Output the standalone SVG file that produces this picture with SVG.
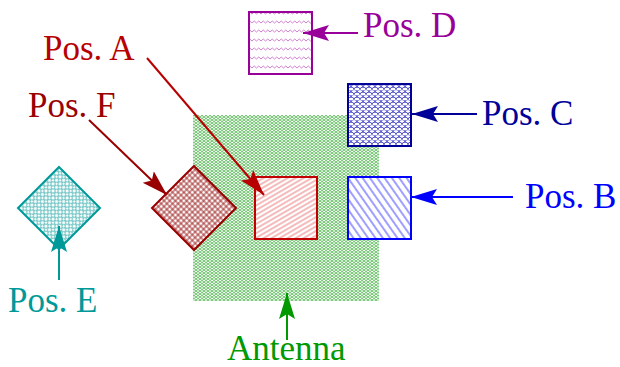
<svg xmlns="http://www.w3.org/2000/svg" width="620" height="367" viewBox="0 0 620 367">
<style>
text{font-family:"Liberation Serif","Times New Roman",serif;font-size:35px}
.conn{fill:none;stroke-width:2}
.box{stroke-width:2}
</style>
<defs>
<pattern id="pAnt" width="4" height="3" patternUnits="userSpaceOnUse">
<path d="M0,0 L4,3 M4,0 L0,3" stroke="#5cbc5c" stroke-width="0.9" fill="none"/>
</pattern>
<pattern id="pA" width="4" height="4" patternUnits="userSpaceOnUse" patternTransform="rotate(-30)">
<path d="M0,2 H4" stroke="#e87878" stroke-width="1"/>
</pattern>
<pattern id="pB" width="6" height="6" patternUnits="userSpaceOnUse" patternTransform="rotate(55)">
<path d="M0,3 H6" stroke="#4040ff" stroke-width="1"/>
</pattern>
<pattern id="pC" width="6" height="5" patternUnits="userSpaceOnUse">
<path d="M0,5 A3,3 0 0 1 6,5 M-3,2.5 A3,3 0 0 1 3,2.5 M3,2.5 A3,3 0 0 1 9,2.5" stroke="#4a4ac8" stroke-width="0.9" fill="none"/>
</pattern>
<pattern id="pD" width="9" height="9" patternUnits="userSpaceOnUse">
<path d="M0,5 L2.25,3 L4.5,5 L6.75,3 L9,5" stroke="#d080d0" stroke-width="1" fill="none"/>
</pattern>
<pattern id="pE" width="5" height="5" patternUnits="userSpaceOnUse" patternTransform="rotate(45)">
<circle cx="2.5" cy="2.5" r="2.1" stroke="#40b0b0" stroke-width="0.9" fill="none"/>
</pattern>
<pattern id="pF" width="4" height="4" patternUnits="userSpaceOnUse" patternTransform="rotate(45)">
<path d="M0,2 H4 M2,0 V4" stroke="#9a1a1a" stroke-width="0.9"/>
</pattern>
<marker id="mA" markerUnits="userSpaceOnUse" viewBox="-26 -9 27 18" refX="0" refY="0" markerWidth="27" markerHeight="18" orient="auto">
<path d="M0,0 L-26,-8 L-21,0 L-26,8 Z" fill="#b80000"/>
</marker>
<marker id="mF" markerUnits="userSpaceOnUse" viewBox="-26 -9 27 18" refX="0" refY="0" markerWidth="27" markerHeight="18" orient="auto">
<path d="M0,0 L-26,-8 L-21,0 L-26,8 Z" fill="#990000"/>
</marker>
<marker id="mD" markerUnits="userSpaceOnUse" viewBox="-26 -9 27 18" refX="0" refY="0" markerWidth="27" markerHeight="18" orient="auto">
<path d="M0,0 L-26,-8 L-21,0 L-26,8 Z" fill="#990099"/>
</marker>
<marker id="mC" markerUnits="userSpaceOnUse" viewBox="-26 -9 27 18" refX="0" refY="0" markerWidth="27" markerHeight="18" orient="auto">
<path d="M0,0 L-26,-8 L-21,0 L-26,8 Z" fill="#000099"/>
</marker>
<marker id="mB" markerUnits="userSpaceOnUse" viewBox="-26 -9 27 18" refX="0" refY="0" markerWidth="27" markerHeight="18" orient="auto">
<path d="M0,0 L-26,-8 L-21,0 L-26,8 Z" fill="#0000ff"/>
</marker>
<marker id="mE" markerUnits="userSpaceOnUse" viewBox="-26 -9 27 18" refX="0" refY="0" markerWidth="27" markerHeight="18" orient="auto">
<path d="M0,0 L-26,-8 L-21,0 L-26,8 Z" fill="#009999"/>
</marker>
<marker id="mG" markerUnits="userSpaceOnUse" viewBox="-26 -9 27 18" refX="0" refY="0" markerWidth="27" markerHeight="18" orient="auto">
<path d="M0,0 L-26,-8 L-21,0 L-26,8 Z" fill="#009900"/>
</marker>
</defs>
<rect width="620" height="367" fill="#ffffff"/>
<g id="antenna">
<rect x="193" y="115" width="186" height="186" fill="url(#pAnt)"/>
<text x="227" y="360" fill="#009900">Antenna</text>
</g>
<g id="posA">
<rect x="255" y="177" width="62" height="62" fill="#ffffff"/>
<rect class="box" x="255" y="177" width="62" height="62" fill="url(#pA)" stroke="#c00000"/>
<text x="43" y="60" fill="#b80000">Pos. A</text>
</g>
<g id="posB">
<rect x="348" y="177" width="63" height="62" fill="#ffffff"/>
<rect class="box" x="348" y="177" width="63" height="62" fill="url(#pB)" stroke="#0000ff"/>
<text x="525" y="208" fill="#0000ff">Pos. B</text>
</g>
<g id="posC">
<rect x="348" y="84" width="63" height="62" fill="#ffffff"/>
<rect class="box" x="348" y="84" width="63" height="62" fill="url(#pC)" stroke="#000099"/>
<text x="482" y="125" fill="#000099">Pos. C</text>
</g>
<g id="posD">
<rect class="box" x="249" y="12" width="63" height="62" fill="url(#pD)" stroke="#990099"/>
<text x="363" y="37" fill="#990099">Pos. D</text>
</g>
<g id="posE">
<path class="box" d="M59,167 L100,208 L59,249 L18,208 Z" fill="url(#pE)" stroke="#009999"/>
<text x="8" y="312" fill="#009999">Pos. E</text>
</g>
<g id="posF">
<path d="M194,166 L236,208 L194,250 L152,208 Z" fill="#ffffff"/>
<path class="box" d="M194,166 L236,208 L194,250 L152,208 Z" fill="url(#pF)" stroke="#990000"/>
<text x="28" y="117" fill="#990000">Pos. F</text>
</g>
<g id="connectors">
<line class="conn" x1="147" y1="58" x2="264" y2="195" stroke="#b80000" marker-end="url(#mA)"/>
<line class="conn" x1="89" y1="120" x2="167" y2="195" stroke="#990000" marker-end="url(#mF)"/>
<line class="conn" x1="358" y1="33" x2="303" y2="33" stroke="#990099" marker-end="url(#mD)"/>
<line class="conn" x1="477" y1="114" x2="412" y2="114" stroke="#000099" marker-end="url(#mC)"/>
<line class="conn" x1="513" y1="197" x2="411" y2="197" stroke="#0000ff" marker-end="url(#mB)"/>
<line class="conn" x1="59" y1="280" x2="59" y2="226" stroke="#009999" marker-end="url(#mE)"/>
<line class="conn" x1="287" y1="340" x2="287" y2="293" stroke="#009900" marker-end="url(#mG)"/>
</g>
</svg>
